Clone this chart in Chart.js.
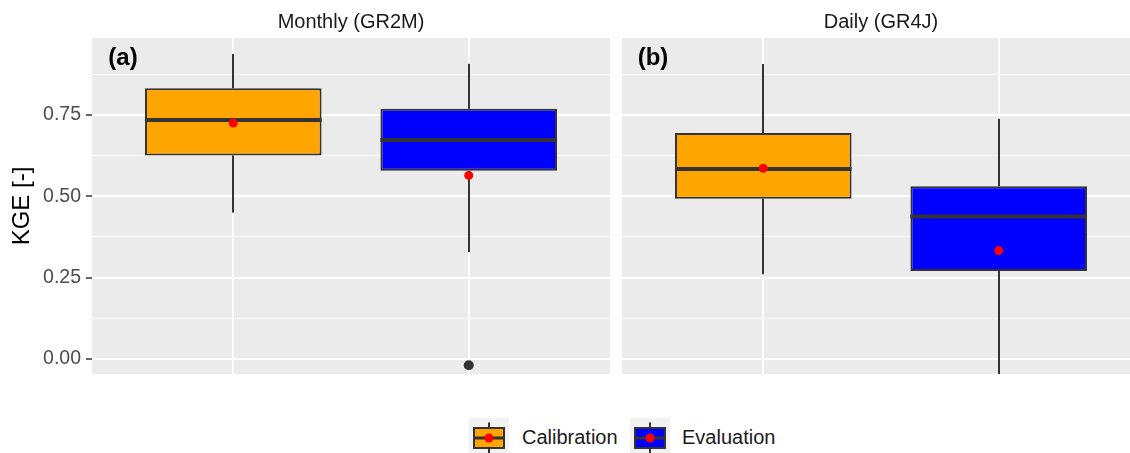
<!DOCTYPE html>
<html>
<head>
<meta charset="utf-8">
<script src="https://cdn.jsdelivr.net/npm/chart.js@4/dist/chart.umd.min.js"></script>
<style>
  html, body { margin: 0; padding: 0; background: #fff; }
  #wrap { position: relative; width: 1130px; height: 453px; overflow: hidden; background: #fff; font-family: "Liberation Sans", Arial, sans-serif; }
  .panel { position: absolute; top: 0; height: 374px; }
  .key { position: absolute; top: 418px; }
  .keytext { position: absolute; top: 425px; font-size: 20px; line-height: 24px; color: #1a1a1a; white-space: nowrap; }
</style>
</head>
<body>
<div id="wrap">
  <div class="panel" style="left:0;width:610px"><canvas id="panelA"></canvas></div>
  <div class="panel" style="left:622px;width:518px"><canvas id="panelB"></canvas></div>
  <canvas class="key" id="key0" width="40" height="35" style="left:469px"></canvas>
  <div class="keytext" id="label0" style="left:522px"></div>
  <canvas class="key" id="key1" width="40" height="35" style="left:630px"></canvas>
  <div class="keytext" id="label1" style="left:682px"></div>
</div>
<script>
// facets and groups
const panels = ["Monthly (GR2M)", "Daily (GR4J)"];
const panelTags = ["(a)", "(b)"];
const groups = ["Calibration", "Evaluation"];
const groupColors = ["#FFA500", "#0000FF"];

// box statistics per panel: [Calibration, Evaluation]
const whiskerLow = [[0.450, 0.329], [0.260, -0.120]];
const q1 = [[0.625, 0.578], [0.492, 0.270]];
const median = [[0.734, 0.673], [0.584, 0.438]];
const q3 = [[0.832, 0.769], [0.694, 0.531]];
const whiskerHigh = [[0.937, 0.907], [0.906, 0.738]];
const means = [[0.725, 0.564], [0.586, 0.333]];
const outliers = [[[], [-0.019]], [[], []]];

const yTicks = [0, 0.25, 0.5, 0.75];
const yMin = -0.046, yMax = 0.986;

const LINE = "#333333";
const isMajor = (v) => yTicks.some((t) => Math.abs(t - v) < 1e-6);

const noPad = (s) => {
  s.paddingLeft = 0;
  s.paddingRight = 0;
  s.paddingTop = 0;
  s.paddingBottom = 0;
};

const boxPlugin = {
  id: "boxParts",
  beforeDraw(chart) {
    const a = chart.chartArea;
    const ctx = chart.ctx;
    ctx.save();
    ctx.fillStyle = "#EBEBEB";
    ctx.fillRect(a.left, a.top, a.right - a.left, a.bottom - a.top);
    ctx.restore();
  },
  beforeDatasetsDraw(chart) {
    const p = chart.options.plugins.boxParts.panel;
    const ctx = chart.ctx, a = chart.chartArea;
    const xs = chart.scales.x, ys = chart.scales.y;
    ctx.save();
    ctx.beginPath();
    ctx.rect(a.left, a.top, a.right - a.left, a.bottom - a.top);
    ctx.clip();
    ctx.strokeStyle = LINE;
    ctx.lineWidth = 2;
    groups.forEach((g, i) => {
      const x = Math.round(xs.getPixelForValue(i + 1));
      ctx.beginPath();
      ctx.moveTo(x, ys.getPixelForValue(whiskerLow[p][i]));
      ctx.lineTo(x, ys.getPixelForValue(q1[p][i]));
      ctx.moveTo(x, ys.getPixelForValue(q3[p][i]));
      ctx.lineTo(x, ys.getPixelForValue(whiskerHigh[p][i]));
      ctx.stroke();
    });
    ctx.restore();
  },
  afterDatasetDraw(chart, args) {
    if (args.index !== 0) return;
    const p = chart.options.plugins.boxParts.panel;
    const ctx = chart.ctx;
    const ys = chart.scales.y;
    ctx.save();
    ctx.strokeStyle = LINE;
    ctx.lineWidth = 4;
    args.meta.data.forEach((bar, i) => {
      const y = ys.getPixelForValue(median[p][i]);
      ctx.beginPath();
      ctx.moveTo(bar.x - bar.width / 2, y);
      ctx.lineTo(bar.x + bar.width / 2, y);
      ctx.stroke();
    });
    ctx.restore();
  },
  afterDraw(chart) {
    const p = chart.options.plugins.boxParts.panel;
    const ctx = chart.ctx, a = chart.chartArea;
    ctx.save();
    ctx.fillStyle = "#1A1A1A";
    ctx.font = '20px "Liberation Sans", Arial, sans-serif';
    ctx.textAlign = "center";
    ctx.textBaseline = "alphabetic";
    ctx.fillText(panels[p], a.left + 259, 28);
    ctx.fillStyle = "#000000";
    ctx.font = 'bold 24px "Liberation Sans", Arial, sans-serif';
    ctx.fillText(panelTags[p], a.left + 31, 65);
    ctx.restore();
  }
};

function makePanel(id, p) {
  const boxData = groups.map((g, i) => ({ x: i + 1, y: [q1[p][i], q3[p][i]] }));
  const meanData = groups.map((g, i) => ({ x: i + 1, y: means[p][i] }));
  const outData = [];
  groups.forEach((g, i) => outliers[p][i].forEach((v) => outData.push({ x: i + 1, y: v })));
  const showY = p === 0;

  new Chart(document.getElementById(id), {
    type: "bar",
    data: {
      datasets: [
        {
          type: "bar",
          data: boxData,
          backgroundColor: groupColors,
          borderColor: LINE,
          borderWidth: 2,
          borderSkipped: false,
          barPercentage: 0.75,
          categoryPercentage: 1,
          order: 3
        },
        {
          type: "scatter",
          data: outData,
          pointRadius: 5,
          pointBackgroundColor: LINE,
          pointBorderWidth: 0,
          order: 2
        },
        {
          type: "scatter",
          data: meanData,
          pointRadius: 4.5,
          pointBackgroundColor: "#FF0000",
          pointBorderWidth: 0,
          order: 1
        }
      ]
    },
    options: {
      responsive: true,
      maintainAspectRatio: false,
      animation: false,
      layout: { autoPadding: false, padding: { top: 38, left: 0, right: 0, bottom: 0 } },
      plugins: {
        legend: { display: false },
        tooltip: { enabled: false },
        boxParts: { panel: p }
      },
      scales: {
        x: {
          type: "linear",
          min: 0.4,
          max: 2.6,
          offset: false,
          ticks: { stepSize: 1, includeBounds: false, display: false },
          grid: { color: "#FFFFFF", lineWidth: 2, drawTicks: false, offset: false },
          border: { display: false },
          afterFit: (s) => { s.height = 0; noPad(s); }
        },
        y: {
          type: "linear",
          min: yMin,
          max: yMax,
          ticks: {
            display: showY,
            stepSize: 0.125,
            includeBounds: false,
            autoSkip: false,
            padding: 5,
            color: "#4D4D4D",
            font: { family: '"Liberation Sans", Arial, sans-serif', size: 19.5 },
            callback: (v) => (isMajor(v) ? v.toFixed(2) : "")
          },
          grid: {
            color: "#FFFFFF",
            lineWidth: (c) => (c.tick && isMajor(c.tick.value) ? 2 : 1),
            drawTicks: showY,
            tickLength: 6,
            tickWidth: 1.5,
            tickColor: (c) => (c.tick && isMajor(c.tick.value) ? LINE : "rgba(0,0,0,0)")
          },
          border: { display: false },
          title: {
            display: showY,
            text: "KGE [-]",
            color: "#000000",
            padding: { top: 8, bottom: 0 },
            font: { family: '"Liberation Sans", Arial, sans-serif', size: 24 }
          },
          afterFit: (s) => { s.width = showY ? 92 : 0; noPad(s); }
        }
      }
    },
    plugins: [boxPlugin]
  });
}

makePanel("panelA", 0);
makePanel("panelB", 1);

// legend keys
groups.forEach((g, i) => {
  document.getElementById("label" + i).textContent = g;
  const c = document.getElementById("key" + i).getContext("2d");
  c.fillStyle = "#F2F2F2";
  c.fillRect(0, 0, 40, 35);
  c.strokeStyle = LINE;
  c.lineWidth = 2;
  c.beginPath();
  c.moveTo(20, 4.5); c.lineTo(20, 10);
  c.moveTo(20, 30); c.lineTo(20, 35);
  c.stroke();
  c.fillStyle = groupColors[i];
  c.fillRect(5, 10, 30, 20);
  c.strokeRect(5, 10, 30, 20);
  c.lineWidth = 3;
  c.beginPath();
  c.moveTo(5, 20); c.lineTo(35, 20);
  c.stroke();
  c.fillStyle = "#FF0000";
  c.beginPath();
  c.arc(20, 20, 4.5, 0, Math.PI * 2);
  c.fill();
});
</script>
</body>
</html>
